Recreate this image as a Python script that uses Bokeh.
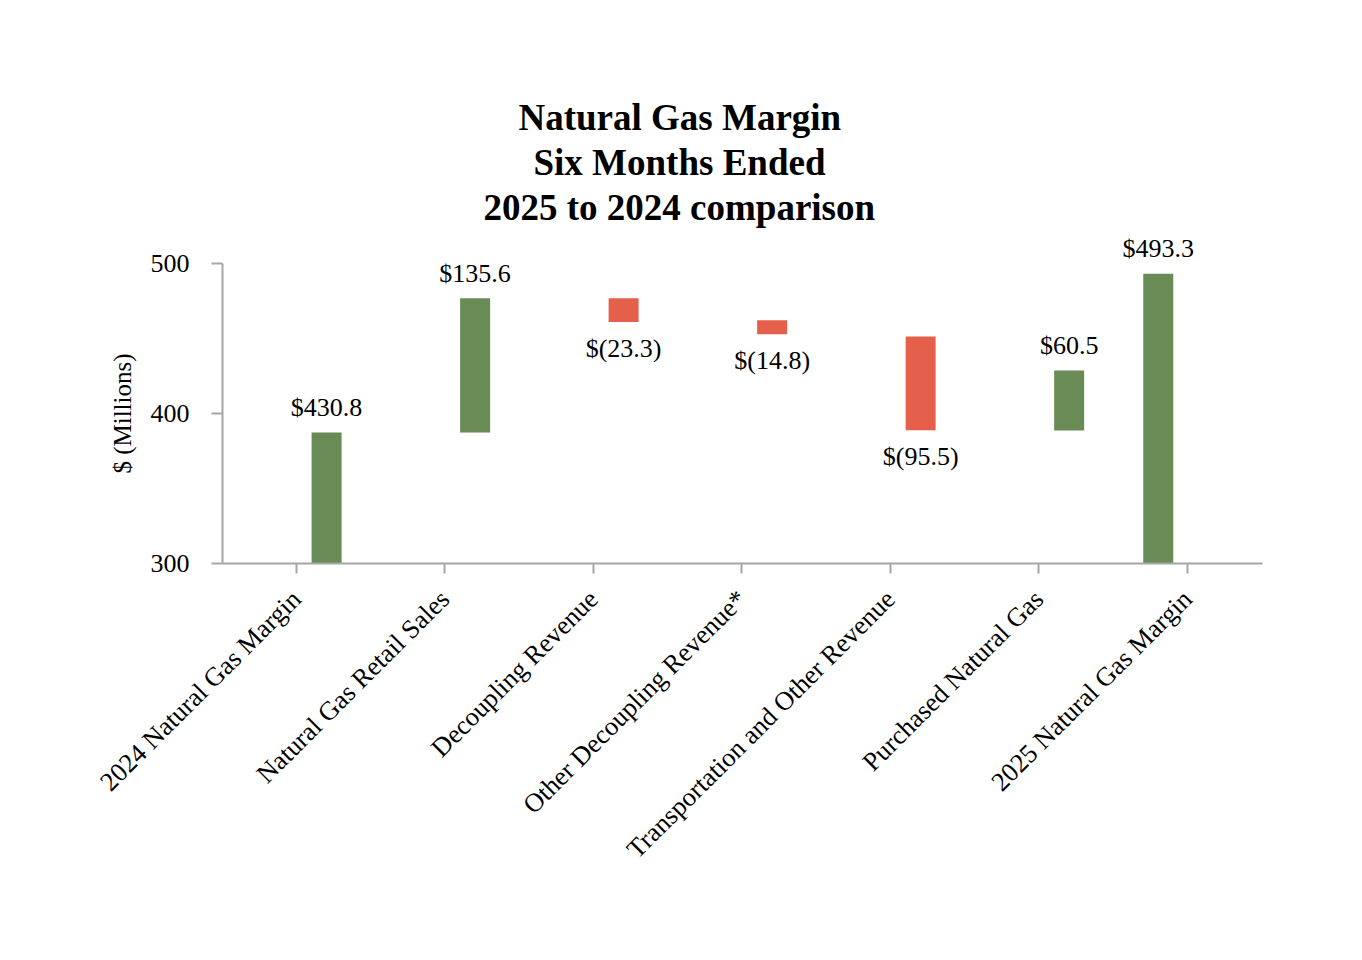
from bokeh.plotting import figure
from bokeh.models import ColumnDataSource, FixedTicker, Range1d, Title
from bokeh.core.properties import value
from bokeh.embed import file_html
from bokeh.resources import INLINE

# ---- data ----
categories = [
    "2024 Natural Gas Margin",
    "Natural Gas Retail Sales",
    "Decoupling Revenue",
    "Other Decoupling Revenue*",
    "Transportation and Other Revenue",
    "Purchased Natural Gas",
    "2025 Natural Gas Margin",
]
value_labels = ["$430.8", "$135.6", "$(23.3)", "$(14.8)", "$(95.5)", "$60.5", "$493.3"]
bar_bottom = [300.0, 387.3, 461.0, 452.8, 388.8, 388.6, 300.0]
bar_top = [387.3, 476.8, 476.8, 462.1, 451.4, 428.7, 493.1]
direction = ["up", "up", "down", "down", "down", "up", "up"]
y_ticks = [300, 400, 500]

title_lines = ["Natural Gas Margin", "Six Months Ended", "2025 to 2024 comparison"]
y_label = "$ (Millions)"

GREEN = "#698B55"
RED = "#E5604B"
AXIS = "#A6A6A6"
FONT = "Liberation Serif"

n = len(categories)
# bars sit to the right of their tick, the final total to the left
bar_x = [i + (-0.195 if i == n - 1 else 0.205) for i in range(n)]
colors = [GREEN if d == "up" else RED for d in direction]

src = ColumnDataSource(dict(x=bar_x, bottom=bar_bottom, top=bar_top, color=colors))

up_idx = [i for i in range(n) if direction[i] == "up"]
dn_idx = [i for i in range(n) if direction[i] == "down"]
src_up = ColumnDataSource(dict(x=[bar_x[i] for i in up_idx],
                               y=[bar_top[i] for i in up_idx],
                               t=[value_labels[i] for i in up_idx]))
src_dn = ColumnDataSource(dict(x=[bar_x[i] for i in dn_idx],
                               y=[bar_bottom[i] for i in dn_idx],
                               t=[value_labels[i] for i in dn_idx]))

p = figure(width=1346, height=944, output_backend="svg", toolbar_location=None,
           x_range=Range1d(-0.496, 6.507), y_range=Range1d(300, 500),
           min_border_left=222, min_border_right=84, min_border_top=263,
           min_border_bottom=381)

p.vbar(x="x", bottom="bottom", top="top", width=0.202, fill_color="color",
       line_color=None, source=src)

# value labels drawn on the overlay level so the one above the frame is not clipped
p.text(x="x", y="y", text="t", source=src_up, text_font=value(FONT),
       text_font_size="26px", text_align="center", text_baseline="middle",
       y_offset=-25, text_color="black", level="overlay")
p.text(x="x", y="y", text="t", source=src_dn, text_font=value(FONT),
       text_font_size="26px", text_align="center", text_baseline="middle",
       y_offset=26, text_color="black", level="overlay")

# title: three centred lines; p.title is outermost, added titles stack from the frame out
title_offsets = [296, 311, 261]
p.title.text = title_lines[0]
p.title.align = "left"
p.title.offset = title_offsets[0]
p.title.standoff = 2
p.title.text_font = FONT
p.title.text_font_size = "37px"
p.title.text_font_style = "bold"
p.title.text_color = "black"
# blank spacer between the last title line and the plot area
p.add_layout(Title(text=" ", text_font_size="1px", standoff=32), "above")
for k in (2, 1):
    p.add_layout(Title(text=title_lines[k], align="left", offset=title_offsets[k],
                       standoff=2, text_font=FONT,
                       text_font_size="37px", text_font_style="bold",
                       text_color="black"), "above")

p.grid.visible = False
p.outline_line_color = None
p.background_fill_color = "white"
p.border_fill_color = "white"

# x axis
xa = p.xaxis[0]
xa.ticker = FixedTicker(ticks=list(range(n)))
xa.major_label_overrides = {i: c for i, c in enumerate(categories)}
xa.major_label_orientation = 0.7853981634
xa.major_label_text_font = FONT
xa.major_label_text_font_size = "26.5px"
xa.major_label_text_color = "black"
xa.major_label_standoff = 21
xa.axis_line_color = AXIS
xa.axis_line_width = 2
xa.major_tick_line_color = AXIS
xa.major_tick_line_width = 2
xa.major_tick_out = 10
xa.major_tick_in = 0
xa.minor_tick_line_color = None

# y axis
ya = p.yaxis[0]
ya.ticker = FixedTicker(ticks=y_ticks)
ya.bounds = (300, 500)
ya.axis_label = y_label
ya.axis_label_text_font = FONT
ya.axis_label_text_font_size = "25px"
ya.axis_label_text_font_style = "normal"
ya.axis_label_text_color = "black"
ya.axis_label_standoff = 12
ya.major_label_text_font = FONT
ya.major_label_text_font_size = "26px"
ya.major_label_text_color = "black"
ya.major_label_standoff = 22
ya.axis_line_color = AXIS
ya.axis_line_width = 2
ya.major_tick_line_color = AXIS
ya.major_tick_line_width = 2
ya.major_tick_out = 11
ya.major_tick_in = 0
ya.minor_tick_line_color = None

open("out.html", "w").write(file_html(p, INLINE))
